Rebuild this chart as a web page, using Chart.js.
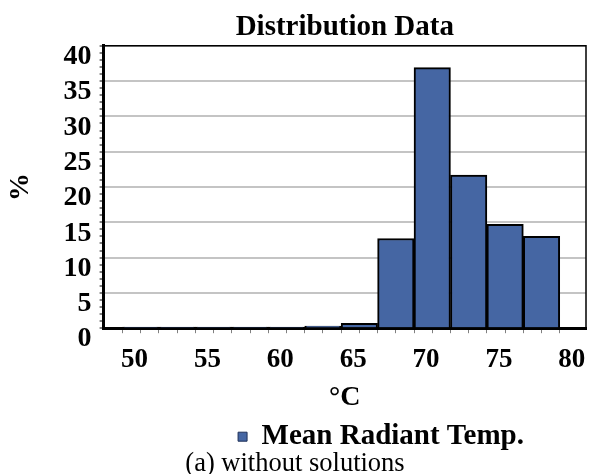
<!DOCTYPE html>
<html>
<head>
<meta charset="utf-8">
<script src="https://cdn.jsdelivr.net/npm/chart.js@4"></script>
<style>
  html, body { margin: 0; padding: 0; background: #fff; }
</style>
</head>
<body>
<canvas id="chart" width="594" height="474"></canvas>
<script>
// histogram bins (centre of each 2.5 degree bin) and share of hours in %
const binCenters = [51.25, 53.75, 56.25, 58.75, 61.25, 63.75, 66.25, 68.75, 71.25, 73.75, 76.25, 78.75];
const percentValues = [0.15, 0.15, 0.15, 0.15, 0.15, 0.3, 0.7, 12.7, 36.9, 21.7, 14.7, 13.0];
const seriesName = 'Mean Radiant Temp.';
const chartTitle = 'Distribution Data';
const xTitle = '°C';
const yTitle = '%';
const caption = '(a) without solutions';
const xRange = [50, 80];
const yRange = [0, 40];

const FONT = "'Liberation Serif', 'Times New Roman', serif";

// thin black frame on top and right of the plot area
const framePlugin = {
  id: 'frame',
  afterDraw(chart) {
    const {ctx, chartArea: a} = chart;
    ctx.save();
    ctx.strokeStyle = '#000';
    ctx.lineWidth = 1.5;
    ctx.beginPath();
    ctx.moveTo(a.left, a.top);
    ctx.lineTo(a.right, a.top);
    ctx.lineTo(a.right, a.bottom);
    ctx.stroke();
    ctx.restore();
  }
};

// legend sits right of centre in the original
const legendShift = {
  id: 'legendShift',
  afterLayout(chart) {
    chart.legend.left += 86;
    chart.legend.right += 86;
  }
};

function initChartHist(ctx) {
  new Chart(ctx, {
    type: 'bar',
    data: {
      datasets: [{
        label: seriesName,
        data: binCenters.map((x, i) => ({x: x, y: percentValues[i]})),
        backgroundColor: '#4566a3',
        borderColor: '#000',
        borderWidth: 2,
        barThickness: 'flex',
        barPercentage: 1,
        categoryPercentage: 1
      }]
    },
    options: {
      responsive: false,
      animation: false,
      layout: { padding: { left: 4, right: 8, bottom: 0 } },
      plugins: {
        title: {
          display: true,
          fullSize: false,
          text: chartTitle,
          color: '#000',
          font: { family: FONT, size: 29, weight: 'bold' },
          padding: { top: 10, bottom: 1 }
        },
        subtitle: {
          display: true,
          position: 'bottom',
          text: caption,
          color: '#000',
          font: { family: FONT, size: 26.5, weight: 'normal', lineHeight: 0.2 },
          padding: { top: 0, bottom: 7.5 }
        },
        legend: {
          position: 'bottom',
          labels: {
            color: '#000',
            boxWidth: 9,
            boxHeight: 9,
            padding: 6,
            font: { family: FONT, size: 29, weight: 'bold', lineHeight: 1 },
            generateLabels: chart => Chart.defaults.plugins.legend.labels.generateLabels(chart)
              .map(l => Object.assign(l, { lineWidth: 1, strokeStyle: '#1f3159' }))
          }
        },
        tooltip: { enabled: false }
      },
      scales: {
        x: {
          type: 'linear',
          min: 48.7,
          max: 81.8,
          offset: false,
          afterBuildTicks: axis => {
            axis.ticks = axis.ticks.filter(t => t.value >= xRange[0] && t.value <= xRange[1]);
          },
          ticks: {
            stepSize: 1.25,
            includeBounds: false,
            autoSkip: false,
            maxRotation: 0,
            labelOffset: 12,
            padding: 13.7,
            color: '#000',
            font: { family: FONT, size: 27, weight: 'bold', lineHeight: 1 },
            callback: v => (v % 5 === 0 ? String(v) : '')
          },
          grid: {
            offset: false,
            drawOnChartArea: false,
            drawTicks: true,
            tickLength: 5,
            tickColor: '#808080'
          },
          border: { display: true, color: '#000', width: 3 },
          title: {
            display: true,
            text: xTitle,
            color: '#000',
            font: { family: FONT, size: 28, weight: 'bold' },
            padding: { top: -7, bottom: 2 }
          }
        },
        y: {
          min: yRange[0],
          max: yRange[1],
          ticks: {
            stepSize: 1,
            autoSkip: false,
            labelOffset: 11,
            padding: 8,
            color: '#000',
            font: { family: FONT, size: 28, weight: 'bold' },
            callback: v => (v % 5 === 0 ? String(v) : '')
          },
          grid: {
            color: c => (c.tick && c.tick.value % 5 === 0 ? '#c4c4c4' : 'rgba(0,0,0,0)'),
            lineWidth: 2,
            drawTicks: true,
            tickLength: 4,
            tickColor: '#808080'
          },
          border: { display: true, color: '#000', width: 3 },
          title: {
            display: true,
            text: yTitle,
            color: '#000',
            font: { family: FONT, size: 28, weight: 'bold' },
            padding: { top: 0, bottom: 18 }
          }
        }
      }
    },
    plugins: [framePlugin, legendShift]
  });
}

initChartHist(document.getElementById('chart').getContext('2d'));
</script>
</body>
</html>
